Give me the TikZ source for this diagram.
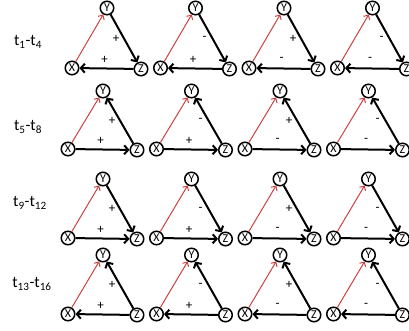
\documentclass[tikz,border=0pt]{standalone}
\usepackage{fontspec}
\setmainfont{Carlito}
\usetikzlibrary{arrows.meta}

\definecolor{edgered}{RGB}{205,65,65}

\begin{document}
\begin{tikzpicture}[x=1pt,y=-1pt,font=\small,
  vtx/.style={circle,draw,line width=1.5pt,inner sep=0pt,minimum size=13.5pt,font=\fontsize{12}{12}\selectfont},
  redarr/.style={edgered,line width=1pt,-{Straight Barb[length=3.5pt,width=7pt]}},
  blkarr/.style={line width=2pt,-{Straight Barb[length=4pt,width=9pt]}},
  tlab/.style={font=\fontsize{16}{18}\selectfont},
  sgn/.style={font=\fontsize{13}{13}\selectfont}]

\useasboundingbox (0,0) rectangle (409,331);

% t1-t4: y -> z, z -> x
\node[tlab] (t1) at (28,42) {t\textsubscript{1}-t\textsubscript{4}};
\foreach \c/\a/\b in {0/+/+,1/-/+,2/+/-,3/-/-}{
  \node[vtx] (x1\c) at (72+88.5*\c,68) {X};
  \node[vtx] (y1\c) at (107+88.5*\c,8) {Y};
  \node[vtx] (z1\c) at (141+88.5*\c,69) {Z};
  \draw[redarr] (x1\c) -- (y1\c);
  \draw[blkarr] (y1\c) -- node[sgn,shift={(-8,0)}] {\a} (z1\c);
  \draw[blkarr] (z1\c) -- node[sgn,shift={(-2,-9)}] {\b} (x1\c);
}

% t5-t8: x -> z, z -> y
\node[tlab] (t2) at (28,127) {t\textsubscript{5}-t\textsubscript{8}};
\foreach \c/\a/\b in {0/+/+,1/-/+,2/+/-,3/-/-}{
  \node[vtx] (x2\c) at (68+88.5*\c,149) {X};
  \node[vtx] (y2\c) at (103+88.5*\c,91) {Y};
  \node[vtx] (z2\c) at (137+88.5*\c,150) {Z};
  \draw[redarr] (x2\c) -- (y2\c);
  \draw[blkarr] (z2\c) -- node[sgn,shift={(-8,0)}] {\a} (y2\c);
  \draw[blkarr] (x2\c) -- node[sgn,shift={(-2,-9)}] {\b} (z2\c);
}

% t9-t12: y -> z, x -> z
\node[tlab] (t3) at (30,203) {t\textsubscript{9}-t\textsubscript{12}};
\foreach \c/\a/\b in {0/+/+,1/-/+,2/+/-,3/-/-}{
  \node[vtx] (x3\c) at (68+88.5*\c,238) {X};
  \node[vtx] (y3\c) at (103+88.5*\c,179) {Y};
  \node[vtx] (z3\c) at (137+88.5*\c,239) {Z};
  \draw[redarr] (x3\c) -- (y3\c);
  \draw[blkarr] (y3\c) -- node[sgn,shift={(-8,0)}] {\a} (z3\c);
  \draw[blkarr] (x3\c) -- node[sgn,shift={(-2,-9)}] {\b} (z3\c);
}

% t13-t16: z -> y, z -> x
\node[tlab] (t4) at (32,284) {t\textsubscript{13}-t\textsubscript{16}};
\foreach \c/\a/\b in {0/+/+,1/-/+,2/+/-,3/-/-}{
  \node[vtx] (x4\c) at (68+88.5*\c,314) {X};
  \node[vtx] (y4\c) at (103+88.5*\c,255) {Y};
  \node[vtx] (z4\c) at (137+88.5*\c,315) {Z};
  \draw[redarr] (x4\c) -- (y4\c);
  \draw[blkarr] (z4\c) -- node[sgn,shift={(-8,0)}] {\a} (y4\c);
  \draw[blkarr] (z4\c) -- node[sgn,shift={(-2,-9)}] {\b} (x4\c);
}

\end{tikzpicture}
\end{document}
